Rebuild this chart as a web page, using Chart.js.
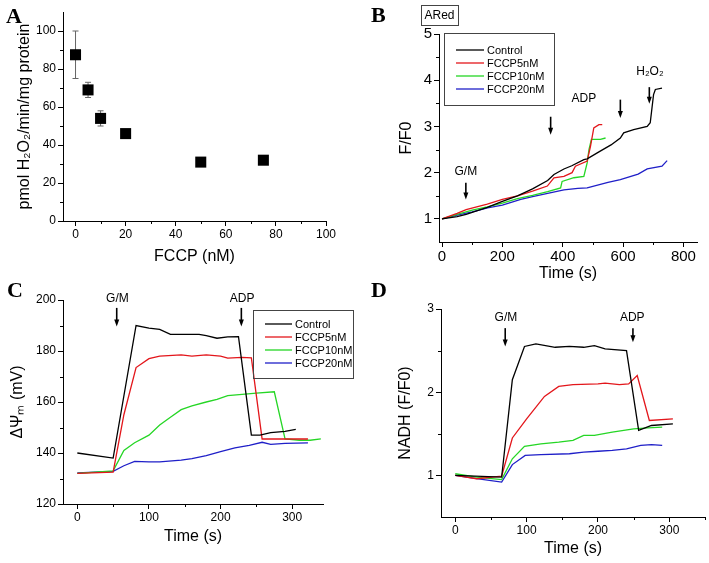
<!DOCTYPE html>
<html>
<head>
<meta charset="utf-8">
<script src="https://cdn.jsdelivr.net/npm/chart.js@4.4.0/dist/chart.umd.min.js"></script>
<style>
  body { margin: 0; background: #fff; width: 709px; height: 563px; position: relative; overflow: hidden; }
  canvas { position: absolute; }
  .tag { position: absolute; font: bold 22px "Liberation Serif", "Times New Roman", serif; line-height: 22px; }
</style>
</head>
<body>
<canvas id="chartA" width="354" height="281" style="left:0;top:0"></canvas>
<canvas id="chartB" width="355" height="290" style="left:354px;top:0"></canvas>
<canvas id="chartC" width="354" height="282" style="left:0;top:281px"></canvas>
<canvas id="chartD" width="355" height="282" style="left:354px;top:281px"></canvas>
<div class="tag" style="left:6px;top:5px">A</div>
<div class="tag" style="left:371px;top:4px">B</div>
<div class="tag" style="left:7px;top:279px">C</div>
<div class="tag" style="left:371px;top:279px">D</div>
<script>
Chart.defaults.font.family = '"Liberation Sans", Arial, sans-serif';
Chart.defaults.color = '#000';
Chart.defaults.animation = false;

// ---- panel A: H2O2 release vs FCCP
const fccpConc = [0, 5, 10, 20, 50, 75];
const h2o2Rate = [87.5, 69, 54, 46, 31, 32];
const h2o2Err = [12.5, 4, 4, 0, 0, 0];
const aXTicks = [0, 20, 40, 60, 80, 100];
const aYTicks = [0, 20, 40, 60, 80, 100];

// shared series names / colours
const seriesNames = ['Control', 'FCCP5nM', 'FCCP10nM', 'FCCP20nM'];
const seriesColors = ['#000000', '#e3161b', '#25d625', '#1f1fc8'];

// ---- panel B: ARed F/F0 vs time
const bCtrlT = [0, 50, 80, 100, 150, 200, 250, 300, 350, 371, 404, 430, 470, 481, 520, 560, 591, 602, 635, 680, 690, 701, 707, 729];
const bCtrlV = [1, 1.05, 1.1, 1.14, 1.25, 1.38, 1.5, 1.65, 1.83, 1.96, 2.08, 2.15, 2.28, 2.3, 2.45, 2.6, 2.75, 2.86, 2.93, 3.0, 3.08, 3.69, 3.8, 3.83];
const bF5T = [0, 50, 80, 150, 200, 250, 300, 349, 371, 404, 431, 442, 481, 492, 503, 520, 531];
const bF5V = [1, 1.12, 1.2, 1.32, 1.42, 1.5, 1.6, 1.71, 1.89, 1.92, 2.0, 2.14, 2.25, 2.57, 2.97, 3.04, 3.04];
const bF10T = [0, 50, 100, 150, 200, 250, 300, 350, 393, 398, 437, 470, 481, 487, 495, 525, 542];
const bF10V = [1, 1.1, 1.19, 1.26, 1.34, 1.44, 1.51, 1.59, 1.67, 1.81, 1.89, 1.92, 2.21, 2.5, 2.72, 2.72, 2.75];
const bF20T = [0, 50, 100, 151, 200, 261, 300, 350, 404, 450, 481, 550, 591, 650, 680, 729, 746];
const bF20V = [1, 1.08, 1.15, 1.24, 1.3, 1.42, 1.48, 1.55, 1.63, 1.66, 1.67, 1.79, 1.85, 1.97, 2.08, 2.14, 2.26];
const bXTicks = [0, 200, 400, 600, 800];
const bYTicks = [1, 2, 3, 4, 5];

// ---- panel C: membrane potential vs time
const cCtrlT = [0, 50, 82, 100, 115, 130, 150, 170, 180, 195, 210, 225, 243, 255, 270, 290, 305];
const cCtrlV = [140, 138, 190, 189, 188.5, 186.5, 186.5, 186.5, 186, 185, 185.5, 185.6, 147, 147, 148, 148.5, 149.3];
const cF5T = [0, 50, 65, 82, 100, 115, 145, 160, 180, 200, 210, 230, 243, 258, 280, 322];
const cF5V = [132, 132.5, 155, 173.5, 177, 178, 178.5, 178, 178.5, 178, 177.2, 177.5, 177.3, 145.5, 145.5, 145.5];
const cF10T = [0, 50, 65, 80, 100, 115, 130, 145, 160, 180, 195, 210, 230, 250, 275, 290, 310, 325, 340];
const cF10V = [132, 133, 141, 144, 147, 151, 154, 157, 158.5, 160, 161, 162.5, 163, 163.5, 164, 145.5, 145, 145, 145.5];
const cF20T = [0, 50, 65, 80, 100, 115, 145, 160, 180, 200, 220, 240, 258, 270, 290, 322];
const cF20V = [132.2, 132.8, 135, 136.7, 136.5, 136.5, 137.2, 137.8, 139, 140.5, 142, 143, 144.2, 143.4, 143.8, 144];
const cXTicks = [0, 100, 200, 300];
const cYTicks = [120, 140, 160, 180, 200];

// ---- panel D: NADH vs time
const dCtrlT = [0, 65, 80, 97, 113, 140, 160, 180, 195, 210, 240, 257, 275, 305];
const dCtrlV = [1.0, 0.98, 2.15, 2.55, 2.58, 2.54, 2.55, 2.54, 2.56, 2.52, 2.5, 1.54, 1.6, 1.62];
const dF5T = [0, 30, 65, 80, 100, 125, 145, 165, 200, 210, 230, 243, 255, 272, 305];
const dF5V = [1.0, 0.96, 0.99, 1.45, 1.68, 1.95, 2.07, 2.09, 2.1, 2.11, 2.09, 2.1, 2.2, 1.66, 1.68];
const dF10T = [0, 30, 65, 80, 97, 120, 145, 165, 180, 195, 220, 250, 270, 290];
const dF10V = [1.02, 0.98, 0.95, 1.2, 1.35, 1.38, 1.4, 1.42, 1.48, 1.48, 1.52, 1.56, 1.57, 1.58];
const dF20T = [0, 30, 65, 80, 98, 120, 160, 180, 200, 220, 240, 260, 275, 290];
const dF20V = [1.0, 0.96, 0.92, 1.13, 1.24, 1.25, 1.26, 1.28, 1.29, 1.3, 1.32, 1.36, 1.37, 1.36];
const dXTicks = [0, 100, 200, 300];
const dYTicks = [1, 2, 3];

function pts(t, v) { return t.map((x, i) => ({ x: x, y: v[i] })); }

function lines(pairs) {
  return pairs.map((p, i) => ({
    label: seriesNames[i], data: pts(p[0], p[1]), showLine: true,
    borderColor: seriesColors[i], backgroundColor: seriesColors[i],
    borderWidth: 1.3, pointRadius: 0, tension: 0
  }));
}

function axes(o) {
  return {
    x: {
      type: 'linear', min: o.xMin, max: o.xMax,
      afterBuildTicks: s => { s.ticks = o.xTicks.map(v => ({ value: v })); },
      afterFit: s => { s.height = o.xH; },
      ticks: { font: { size: o.tick }, color: '#000', padding: 1, maxRotation: 0, autoSkip: false },
      grid: { drawOnChartArea: false, tickLength: 5, color: '#000' },
      border: { color: '#000', width: 1 },
      title: { display: true, text: o.xTitle, color: '#000', font: { size: 16 }, padding: { top: 0, bottom: o.xPad } }
    },
    y: {
      type: 'linear', min: o.yMin, max: o.yMax,
      afterBuildTicks: s => { s.ticks = o.yTicks.map(v => ({ value: v })); },
      afterFit: s => { s.width = o.yW; },
      ticks: { font: { size: o.tick }, color: '#000', padding: 2, autoSkip: false },
      grid: { drawOnChartArea: false, tickLength: 5, color: '#000' },
      border: { color: '#000', width: 1 },
      title: { display: true, text: o.yTitle, color: '#000', font: { size: 16 }, padding: { top: o.yPad, bottom: 0 } }
    }
  };
}

// extra drawing: minor ticks, error bars, arrows, labels, legend box
function decor(cfg) {
  return {
    id: 'decor',
    beforeDatasetsDraw(chart) {
      if (!cfg.errors) return;
      const ctx = chart.ctx, xs = chart.scales.x, ys = chart.scales.y;
      ctx.save();
      ctx.strokeStyle = '#666';
      ctx.lineWidth = 1;
      cfg.errors.err.forEach((e, i) => {
        if (!e) return;
        const x = xs.getPixelForValue(cfg.errors.x[i]);
        const y1 = ys.getPixelForValue(cfg.errors.y[i] + e);
        const y2 = ys.getPixelForValue(cfg.errors.y[i] - e);
        ctx.beginPath();
        ctx.moveTo(x, y1); ctx.lineTo(x, y2);
        ctx.moveTo(x - 3, y1); ctx.lineTo(x + 3, y1);
        ctx.moveTo(x - 3, y2); ctx.lineTo(x + 3, y2);
        ctx.stroke();
      });
      ctx.restore();
    },
    afterDraw(chart) {
      const ctx = chart.ctx, xs = chart.scales.x, ys = chart.scales.y, a = chart.chartArea;
      ctx.save();
      ctx.strokeStyle = '#000';
      ctx.lineWidth = 1;
      ctx.beginPath();
      (cfg.minorX || []).forEach(v => {
        const x = Math.round(xs.getPixelForValue(v)) + 0.5;
        ctx.moveTo(x, a.bottom); ctx.lineTo(x, a.bottom + 3);
      });
      (cfg.minorY || []).forEach(v => {
        const y = Math.round(ys.getPixelForValue(v)) + 0.5;
        ctx.moveTo(a.left, y); ctx.lineTo(a.left - 3, y);
      });
      ctx.stroke();

      ctx.fillStyle = '#000';
      ctx.lineWidth = 1.6;
      (cfg.arrows || []).forEach(ar => {
        const x = xs.getPixelForValue(ar.x);
        const y1 = ys.getPixelForValue(ar.from), y2 = ys.getPixelForValue(ar.to);
        ctx.beginPath();
        ctx.moveTo(x, y1); ctx.lineTo(x, y2 - 5);
        ctx.stroke();
        ctx.beginPath();
        ctx.moveTo(x - 2.5, y2 - 7); ctx.lineTo(x + 2.5, y2 - 7); ctx.lineTo(x, y2);
        ctx.closePath();
        ctx.fill();
      });

      ctx.font = '12px "Liberation Sans", Arial, sans-serif';
      ctx.textAlign = 'center';
      ctx.textBaseline = 'middle';
      (cfg.notes || []).forEach(n => {
        ctx.fillText(n.text, xs.getPixelForValue(n.x), ys.getPixelForValue(n.y));
      });

      if (cfg.boxLabel) {
        const b = cfg.boxLabel;
        ctx.lineWidth = 1;
        ctx.strokeStyle = '#444';
        ctx.strokeRect(b.x + 0.5, b.y + 0.5, b.w, b.h);
        ctx.fillText(b.text, b.x + b.w / 2, b.y + b.h / 2 + 1);
      }

      if (cfg.legend) {
        const L = cfg.legend;
        ctx.lineWidth = 1;
        ctx.strokeStyle = '#444';
        ctx.strokeRect(L.x + 0.5, L.y + 0.5, L.w, L.h);
        ctx.font = '11px "Liberation Sans", Arial, sans-serif';
        ctx.textAlign = 'left';
        chart.data.datasets.forEach((ds, i) => {
          const y = L.rows[i];
          ctx.strokeStyle = ds.borderColor;
          ctx.lineWidth = 1.3;
          ctx.beginPath();
          ctx.moveTo(L.line[0], y); ctx.lineTo(L.line[1], y);
          ctx.stroke();
          ctx.fillStyle = '#000';
          ctx.fillText(ds.label, L.textX, y + 1);
        });
      }
      ctx.restore();
    }
  };
}

function base(pad, o) {
  return {
    responsive: false,
    layout: { padding: pad },
    plugins: { legend: { display: false }, tooltip: { enabled: false } },
    scales: axes(o)
  };
}

// A
new Chart(document.getElementById('chartA'), {
  type: 'scatter',
  data: { datasets: [{ data: pts(fccpConc, h2o2Rate), pointStyle: 'rect', pointRadius: 7.8, backgroundColor: '#000', borderColor: '#000', borderWidth: 0 }] },
  options: base({ left: 0, top: 12, right: 28, bottom: 0 }, {
    xMin: -5, xMax: 100, yMin: 0, yMax: 110, xTicks: aXTicks, yTicks: aYTicks,
    xH: 60, yW: 63, tick: 12, xPad: 15, yPad: 15,
    xTitle: 'FCCP (nM)', yTitle: 'pmol H\u2082O\u2082/min/mg protein'
  }),
  plugins: [decor({
    errors: { x: fccpConc, y: h2o2Rate, err: h2o2Err },
    minorX: [10, 30, 50, 70, 90], minorY: [10, 30, 50, 70, 90]
  })]
});

// B
new Chart(document.getElementById('chartB'), {
  type: 'scatter',
  data: { datasets: lines([[bCtrlT, bCtrlV], [bF5T, bF5V], [bF10T, bF10V], [bF20T, bF20V]]) },
  options: base({ left: 0, top: 34, right: 12, bottom: 0 }, {
    xMin: -10, xMax: 845, yMin: 0.5, yMax: 5, xTicks: bXTicks, yTicks: bYTicks,
    xH: 48, yW: 85, tick: 15, xPad: 7, yPad: 43,
    xTitle: 'Time (s)', yTitle: 'F/F0'
  }),
  plugins: [decor({
    minorX: [100, 300, 500, 700], minorY: [1.5, 2.5, 3.5, 4.5],
    arrows: [{ x: 79, from: 1.78, to: 1.42 }, { x: 360, from: 3.21, to: 2.82 }, { x: 591, from: 3.58, to: 3.18 }, { x: 687, from: 3.85, to: 3.49 }],
    notes: [{ text: 'G/M', x: 79, y: 2.03 }, { text: 'ADP', x: 470, y: 3.6 }, { text: 'H\u2082O\u2082', x: 689, y: 4.19 }],
    boxLabel: { x: 67, y: 5, w: 37, h: 20, text: 'ARed' },
    legend: { x: 90, y: 33, w: 110, h: 72, line: [102, 130], textX: 133, rows: [50, 63, 76, 89] }
  })]
});

// C
new Chart(document.getElementById('chartC'), {
  type: 'scatter',
  data: { datasets: lines([[cCtrlT, cCtrlV], [cF5T, cF5V], [cF10T, cF10V], [cF20T, cF20V]]) },
  options: base({ left: 0, top: 19, right: 31, bottom: 0 }, {
    xMin: -20, xMax: 343, yMin: 120, yMax: 200, xTicks: cXTicks, yTicks: cYTicks,
    xH: 59, yW: 63, tick: 12, xPad: 17, yPad: 8,
    xTitle: 'Time (s)', yTitle: '\u0394\u03a8\u2098 (mV)'
  }),
  plugins: [decor({
    minorX: [50, 150, 250], minorY: [130, 150, 170, 190],
    arrows: [{ x: 55, from: 196.9, to: 189.6 }, { x: 229, from: 196.9, to: 189.6 }],
    notes: [{ text: 'G/M', x: 56, y: 200.4 }, { text: 'ADP', x: 230, y: 200.4 }],
    legend: { x: 253, y: 29, w: 100, h: 68, line: [265, 292], textX: 295, rows: [43, 56, 69, 82] }
  })]
});

// D
new Chart(document.getElementById('chartD'), {
  type: 'scatter',
  data: { datasets: lines([[dCtrlT, dCtrlV], [dF5T, dF5V], [dF10T, dF10V], [dF20T, dF20V]]) },
  options: base({ left: 0, top: 28, right: 4, bottom: 0 }, {
    xMin: -20, xMax: 350, yMin: 0.5, yMax: 3, xTicks: dXTicks, yTicks: dYTicks,
    xH: 46, yW: 87, tick: 12, xPad: 5, yPad: 42,
    xTitle: 'Time (s)', yTitle: 'NADH (F/F0)'
  }),
  plugins: [decor({
    minorX: [50, 150, 250, 350], minorY: [1.5, 2.5],
    arrows: [{ x: 70, from: 2.77, to: 2.55 }, { x: 249, from: 2.77, to: 2.6 }],
    notes: [{ text: 'G/M', x: 71, y: 2.89 }, { text: 'ADP', x: 248, y: 2.89 }]
  })]
});
</script>
</body>
</html>
